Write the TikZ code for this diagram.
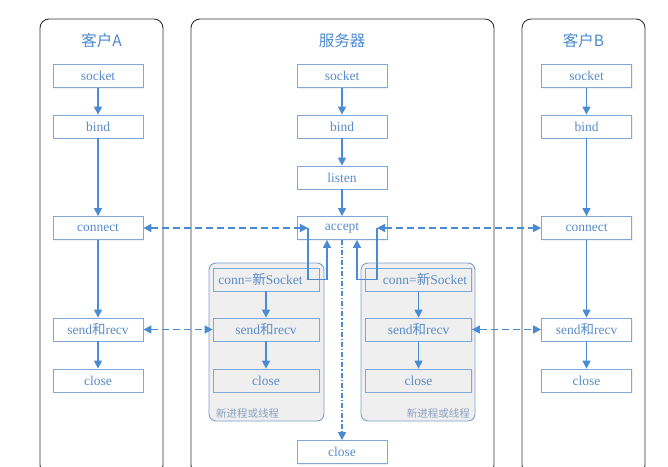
\documentclass[tikz,border=0pt]{standalone}
\usepackage{fontspec}
\setmainfont{Liberation Serif}
\newfontfamily\cjk{Noto Sans CJK SC}
\usetikzlibrary{arrows.meta,shadows}
\definecolor{arrc}{HTML}{4A8CD3}
\definecolor{boxc}{HTML}{7FA8D8}
\definecolor{txtc}{HTML}{5A8CC8}
\definecolor{titc}{HTML}{4A8AD0}
\definecolor{subc}{HTML}{7F9FCF}
\definecolor{subfill}{HTML}{EFEFEF}
\definecolor{labc}{HTML}{8AA0C0}
\begin{document}
\begin{tikzpicture}[x=1pt,y=-1pt,
  panel/.style={draw=black!80,line width=0.9pt,rounded corners=9pt},
  subpanel/.style={draw=subc,fill=subfill,line width=0.9pt,rounded corners=7pt},
  box/.style={draw=boxc,fill=white,line width=0.8pt,minimum width=90pt,minimum height=23pt,inner sep=0pt,
    font=\fontsize{13.5}{15}\selectfont,text=txtc,
    drop shadow={opacity=0.12,shadow xshift=1pt,shadow yshift=-1pt}},
  ibox/.style={box,fill=subfill,minimum width=106pt},
  title/.style={font=\cjk\fontsize{15.5}{17}\selectfont,text=titc},
  sublabel/.style={font=\cjk\fontsize{10.5}{12}\selectfont,text=labc,inner sep=0pt},
  tip/.tip={Triangle[length=8pt,width=8pt]},
  arr/.style={draw=arrc,line width=1.3pt,-tip},
  darr/.style={draw=arrc,line width=1.3pt,dash pattern=on 7pt off 4pt,tip-tip},
  ddarr/.style={draw=arrc,line width=1.2pt,dash pattern=on 5pt off 2pt on 1.2pt off 2pt,-tip},
  lin/.style={draw=arrc,line width=1.3pt}
]
\useasboundingbox (0,0) rectangle (668,466);
\fill[white] (0,0) rectangle (668,466);

% panels
\draw[panel] (40,19) rectangle (163,474);
\draw[panel] (191,19) rectangle (494,474);
\draw[panel] (522,19) rectangle (645,474);
\node[title] (tA) at (101.5,41) {客户A};
\node[title] (tS) at (342,41) {服务器};
\node[title] (tB) at (583.5,41) {客户B};

% sub panels
\draw[subpanel] (209,263) rectangle (324,421);
\draw[subpanel] (361,263) rectangle (475,421);
\node[sublabel,anchor=west] (lL) at (216,413) {新进程或线程};
\node[sublabel,anchor=east] (lR) at (470,413) {新进程或线程};

% client A
\node[box] (sA) at (98,76) {socket};
\node[box] (bA) at (98,126.5) {bind};
\node[box] (cA) at (98,228) {connect};
\node[box] (rA) at (98,329.5) {send{\cjk 和}recv};
\node[box] (xA) at (98,380.5) {close};

% server
\node[box] (sS) at (342,76) {socket};
\node[box] (bS) at (342,126.5) {bind};
\node[box] (lS) at (342,177.5) {listen};
\node[box] (aS) at (342,228) {accept};
\node[box] (xS) at (342,452) {close};

% client B
\node[box] (sB) at (586.5,76) {socket};
\node[box] (bB) at (586.5,126.5) {bind};
\node[box] (cB) at (586.5,228) {connect};
\node[box] (rB) at (586.5,329.5) {send{\cjk 和}recv};
\node[box] (xB) at (586.5,380.5) {close};

% inner left
\node[ibox] (nL) at (266,279.5) {conn={\cjk 新}Socket\hspace*{11pt}};
\node[ibox] (rL) at (266,329.5) {send{\cjk 和}recv};
\node[ibox] (xL) at (266,380.5) {close};
% inner right
\node[ibox] (nR) at (418.5,279.5) {\hspace*{13pt}conn={\cjk 新}Socket};
\node[ibox] (rR) at (418.5,329.5) {send{\cjk 和}recv};
\node[ibox] (xR) at (418.5,380.5) {close};

% solid flows
\draw[arr] (sA) -- (bA);
\draw[arr] (bA) -- (cA);
\draw[arr] (cA) -- (rA);
\draw[arr] (rA) -- (xA);
\draw[arr] (sS) -- (bS);
\draw[arr] (bS) -- (lS);
\draw[arr] (lS) -- (aS);
\draw[arr] (sB) -- (bB);
\draw[arr] (bB) -- (cB);
\draw[arr] (cB) -- (rB);
\draw[arr] (rB) -- (xB);
\draw[arr] (nL) -- (rL);
\draw[arr] (rL) -- (xL);
\draw[arr] (nR) -- (rR);
\draw[arr] (rR) -- (xR);

% accept loops
\coordinate (aL) at (308,228);
\coordinate (bL) at (327,279.5);
\coordinate (aR) at (377,228);
\coordinate (bR) at (357,279.5);
\draw[lin] (aL) |- (bL);
\draw[arr] (bL) -- (bL |- aS.south);
\draw[lin] (aR) |- (bR);
\draw[arr] (bR) -- (bR |- aS.south);

% dashed links
\draw[darr] (cA.east) -- (aL);
\draw[darr] (aR) -- (cB.west);
\draw[darr] (rA.east) -- (rL.west);
\draw[darr] (rR.east) -- (rB.west);
\draw[ddarr] (aS.south) -- (xS.north);
\end{tikzpicture}
\end{document}
